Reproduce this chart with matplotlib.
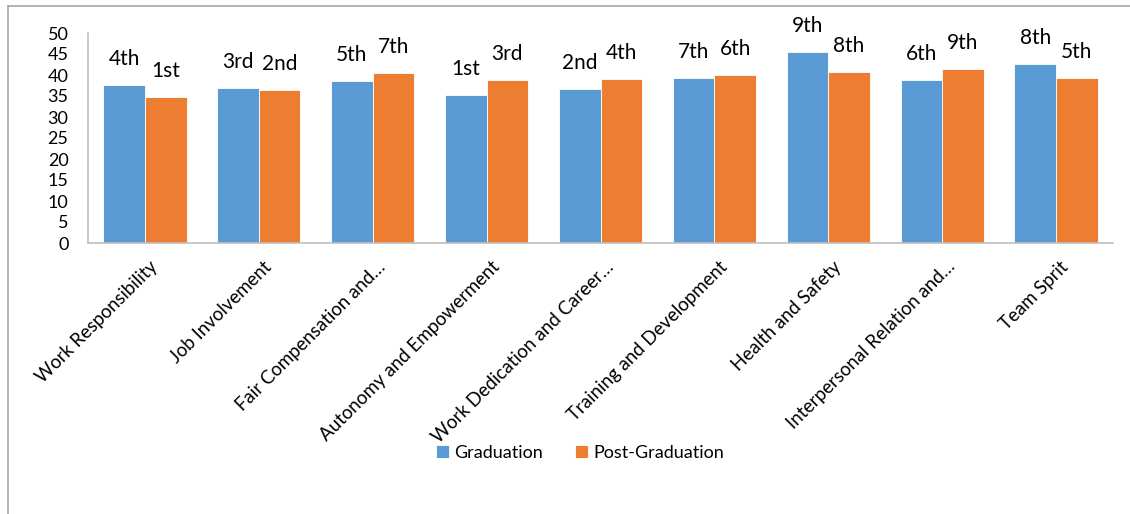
import matplotlib
matplotlib.use("Agg")
import matplotlib.pyplot as plt
import matplotlib.transforms as mtransforms
from matplotlib.lines import Line2D
import numpy as np

categories = ["Work Responsibility", "Job Involvement", "Fair Compensation and…",
              "Autonomy and Empowerment", "Work Dedication and Career…",
              "Training and Development", "Health and Safety",
              "Interpersonal Relation and…", "Team Sprit"]
graduation = [37.6, 36.9, 38.5, 35.3, 36.7, 39.2, 45.4, 38.8, 42.7]
post_graduation = [34.8, 36.5, 40.4, 38.8, 39.1, 39.9, 40.6, 41.5, 39.4]
grad_rank = ["4th", "3rd", "5th", "1st", "2nd", "7th", "9th", "6th", "8th"]
pg_rank = ["1st", "2nd", "7th", "3rd", "4th", "6th", "8th", "9th", "5th"]
yticks = list(range(0, 51, 5))

plt.rcParams['font.family'] = ['Lato', 'DejaVu Sans']

fig = plt.figure(figsize=(11.3, 5.14), dpi=100)
ax = fig.add_axes([88/1130, 1-243/514, (1113-88)/1130, (243-33)/514])

x = np.arange(len(categories))
w = 0.365
blue = "#5B9BD5"
orange = "#ED7D31"
b1 = ax.bar(x - w/2, graduation, w, color=blue, label="Graduation", edgecolor='white', linewidth=0.6)
b2 = ax.bar(x + w/2, post_graduation, w, color=orange, label="Post-Graduation", edgecolor='white', linewidth=0.6)

for xi, v, r in zip(x - w/2, graduation, grad_rank):
    ax.annotate(r, (xi, v), xytext=(0, 26), textcoords='offset pixels',
                ha='center', va='center', fontsize=15, color='black')
for xi, v, r in zip(x + w/2, post_graduation, pg_rank):
    ax.annotate(r, (xi, v), xytext=(0, 26), textcoords='offset pixels',
                ha='center', va='center', fontsize=15, color='black')

ax.set_xlim(-0.5, len(categories) - 0.5)
ax.set_ylim(0, 50)
ax.set_yticks(yticks)
ax.set_yticklabels([str(t) for t in yticks], fontsize=13)
ax.set_xticks(x)
ax.set_xticklabels([])
ax.tick_params(axis='both', length=0, pad=6)
ax.tick_params(axis='y', pad=14)

# category labels, rotated 45 degrees, right end anchored under each category
off = mtransforms.ScaledTranslation(10/100, -21/100, fig.dpi_scale_trans)
for xi, cat in zip(x, categories):
    ax.text(xi, 0, cat, transform=ax.get_xaxis_transform() + off,
            rotation=45, ha='right', va='center', rotation_mode='anchor',
            fontsize=13.4, color='black')

for s in ['top', 'right']:
    ax.spines[s].set_visible(False)
for s in ['left', 'bottom']:
    ax.spines[s].set_color('#BFBFBF')
    ax.spines[s].set_linewidth(1.2)

leg = fig.legend(handles=[b1, b2], loc='center', bbox_to_anchor=(580/1130, 1-453/514),
                 ncol=2, frameon=False, fontsize=13, handlelength=0.7,
                 handleheight=0.7, handletextpad=0.3, columnspacing=1.8)

# outer chart border
fig.add_artist(Line2D([8/1130, 1], [1-6/514, 1-6/514], transform=fig.transFigure,
                      color='#A6A6A6', linewidth=1.2))
fig.add_artist(Line2D([8/1130, 8/1130], [0, 1-6/514], transform=fig.transFigure,
                      color='#A6A6A6', linewidth=1.2))

fig.savefig("out.png", dpi=100)
